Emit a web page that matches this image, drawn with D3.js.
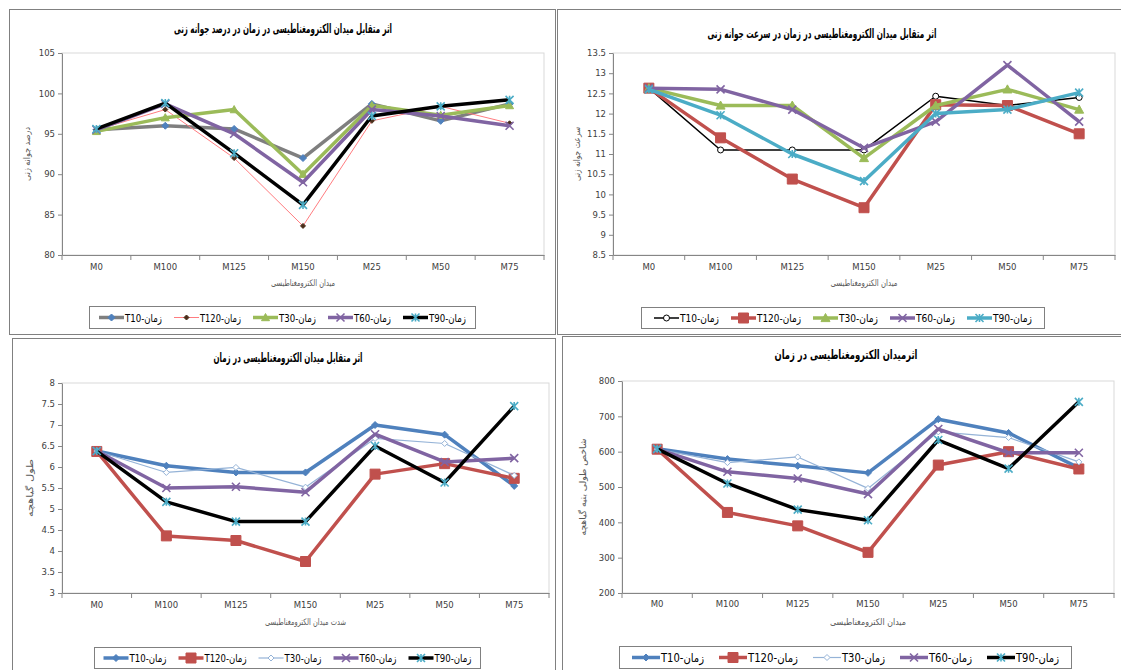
<!DOCTYPE html>
<html>
<head>
<meta charset="utf-8">
<script src="https://cdn.jsdelivr.net/npm/d3@7"></script>
<style>
  html, body { margin: 0; padding: 0; background: #fff; }
  svg { display: block; }
  text { font-family: "DejaVu Sans", "Liberation Sans", sans-serif; }
</style>
</head>
<body>
<svg id="chart" width="1121" height="670"></svg>
<script>
// ---------- DATA ----------
const categories = ["M0", "M100", "M125", "M150", "M25", "M50", "M75"];
const seriesNames = ["T10", "T120", "T30", "T60", "T90"];
const legendLabels = ["T10-زمان", "T120-زمان", "T30-زمان", "T60-زمان", "T90-زمان"];

// Panel 1: germination percentage
const germT10  = [95.5, 96.0, 95.6, 92.0, 98.7, 96.6, 98.7];
const germT120 = [95.5, 98.0, 92.0, 83.6, 96.6, 98.4, 96.3];
const germT30  = [95.3, 97.0, 98.0, 90.0, 98.5, 97.3, 98.5];
const germT60  = [95.5, 98.7, 95.0, 89.0, 98.0, 97.2, 96.0];
const germT90  = [95.6, 98.8, 92.6, 86.2, 97.2, 98.4, 99.2];
const germTicks = [80, 85, 90, 95, 100, 105];

// Panel 2: germination speed
const speedT10  = [12.63, 11.1, 11.1, 11.1, 12.43, 12.2, 12.4];
const speedT120 = [12.63, 11.4, 10.38, 9.67, 12.22, 12.2, 11.5];
const speedT30  = [12.63, 12.2, 12.2, 10.9, 12.2, 12.6, 12.1];
const speedT60  = [12.63, 12.6, 12.1, 11.15, 11.8, 13.2, 11.8];
const speedT90  = [12.6, 11.96, 11.0, 10.33, 12.0, 12.1, 12.52];
const speedTicks = [8.5, 9, 9.5, 10, 10.5, 11, 11.5, 12, 12.5, 13, 13.5];

// Panel 3: seedling length
const lenT10  = [6.38, 6.03, 5.87, 5.87, 7.0, 6.77, 5.55];
const lenT120 = [6.37, 4.36, 4.25, 3.75, 5.83, 6.08, 5.73];
const lenT30  = [6.38, 5.87, 5.99, 5.52, 6.68, 6.56, 5.8];
const lenT60  = [6.38, 5.5, 5.53, 5.4, 6.78, 6.12, 6.21];
const lenT90  = [6.38, 5.17, 4.7, 4.7, 6.5, 5.63, 7.45];
const lenTicks = [3, 3.5, 4, 4.5, 5, 5.5, 6, 6.5, 7, 7.5, 8];

// Panel 4: seedling vigour index
const vigT10  = [608, 579, 560, 540, 692, 653, 554];
const vigT120 = [607, 428, 390, 315, 562, 600, 551];
const vigT30  = [607, 569, 585, 496, 656, 640, 571];
const vigT60  = [607, 543, 524, 480, 664, 597, 597];
const vigT90  = [608, 510, 436, 406, 633, 552, 741];
const vigTicks = [200, 300, 400, 500, 600, 700, 800];

// ---------- STYLES ----------
const styleA = [ // panel 1
  {line: "#7f7f7f", lw: 3.5, marker: "diamond", mfill: "#4f81bd", mstroke: "#4f81bd", ms: 7},
  {line: "#ff7c80", lw: 1, marker: "diamond", mfill: "#4a2e1a", mstroke: "#4a2e1a", ms: 5},
  {line: "#9bbb59", lw: 3.5, marker: "triangle", mfill: "#9bbb59", mstroke: "#9bbb59", ms: 8},
  {line: "#8064a2", lw: 3.5, marker: "x", mfill: "none", mstroke: "#8064a2", ms: 8},
  {line: "#000000", lw: 3.5, marker: "star", mfill: "none", mstroke: "#4bacc6", ms: 8}
];
const styleB = [ // panel 2
  {line: "#000000", lw: 1.5, marker: "circle", mfill: "#ffffff", mstroke: "#000000", ms: 6},
  {line: "#c0504d", lw: 3.5, marker: "square", mfill: "#c0504d", mstroke: "#c0504d", ms: 10},
  {line: "#9bbb59", lw: 3.5, marker: "triangle", mfill: "#9bbb59", mstroke: "#9bbb59", ms: 9},
  {line: "#8064a2", lw: 3.5, marker: "x", mfill: "none", mstroke: "#8064a2", ms: 8},
  {line: "#4bacc6", lw: 3.5, marker: "star", mfill: "none", mstroke: "#4bacc6", ms: 8}
];
const styleC = [ // panels 3 & 4
  {line: "#4f81bd", lw: 3.5, marker: "diamond", mfill: "#4f81bd", mstroke: "#4f81bd", ms: 7},
  {line: "#c0504d", lw: 3.5, marker: "square", mfill: "#c0504d", mstroke: "#c0504d", ms: 10},
  {line: "#95b3d7", lw: 1.2, marker: "diamond", mfill: "#ffffff", mstroke: "#95b3d7", ms: 6},
  {line: "#8064a2", lw: 3.5, marker: "x", mfill: "none", mstroke: "#8064a2", ms: 8},
  {line: "#000000", lw: 3.5, marker: "star", mfill: "none", mstroke: "#4bacc6", ms: 8}
];

const panels = [
  {
    frame: [9.5, 9.5, 546, 325],
    title: "اثر متقابل میدان الکترومغناطیسی در زمان در درصد جوانه زنی", titleX: 283, titleY: 33, titleW: 218,
    plot: {left: 62, right: 544, top: 53, bottom: 255},
    domain: [80, 105], ticks: germTicks,
    yTitle: "درصد جوانه زنی", yTitleX: 30, yTitleW: 54,
    xTitle: "میدان الکترومغناطیسی", xTitleY: 286, xTitleW: 64, catY: 270,
    series: [germT10, germT120, germT30, germT60, germT90], styles: styleA,
    legend: [89.5, 306.5, 386, 22], leg: {line: 25, tw: 37, tw2: 41, gap: 12, fs: 10.5}
  },
  {
    frame: [557.5, 9.5, 570, 325],
    title: "اثر متقابل میدان الکترومغناطیسی در زمان در سرعت جوانه زنی", titleX: 822, titleY: 38, titleW: 229,
    plot: {left: 613, right: 1115, top: 53, bottom: 255},
    domain: [8.5, 13.5], ticks: speedTicks,
    yTitle: "سرعت جوانه زنی", yTitleX: 580, yTitleW: 54,
    xTitle: "میدان الکترومغناطیسی", xTitleY: 286, xTitleW: 67, catY: 270,
    series: [speedT10, speedT120, speedT30, speedT60, speedT90], styles: styleB,
    legend: [641.5, 307.5, 403, 21], leg: {line: 25, tw: 39, tw2: 44, gap: 12, fs: 11}
  },
  {
    frame: [12.5, 338.5, 543, 340],
    title: "اثر متقابل میدان الکترومغناطیسی در زمان", titleX: 288, titleY: 362, titleW: 149,
    plot: {left: 62, right: 549, top: 383, bottom: 593},
    domain: [3, 8], ticks: lenTicks,
    yTitle: "طول گیاهچه", yTitleX: 33, yTitleW: 58,
    xTitle: "شدت میدان الکترومغناطیسی", xTitleY: 625, xTitleW: 81, catY: 608,
    series: [lenT10, lenT120, lenT30, lenT60, lenT90], styles: styleC,
    legend: [94.5, 647.5, 386, 21], leg: {line: 25, tw: 37, tw2: 42, gap: 12, fs: 10.5}
  },
  {
    frame: [562.5, 336.5, 570, 340],
    title: "اثرمیدان الکترومغناطیسی در زمان", titleX: 846, titleY: 359, titleW: 143,
    plot: {left: 622, right: 1114, top: 381, bottom: 593},
    domain: [200, 800], ticks: vigTicks,
    yTitle: "شاخص طولی بنیه گیاهچه", yTitleX: 586, yTitleW: 97,
    xTitle: "میدان الکترومغناطیسی", xTitleY: 625, xTitleW: 76, catY: 607,
    series: [vigT10, vigT120, vigT30, vigT60, vigT90], styles: styleC,
    legend: [619.5, 646.5, 452, 22], leg: {line: 28, tw: 43, tw2: 50, gap: 15, fs: 12}
  }
];

const svg = d3.select("#chart");

function markerPath(type, s) {
  const h = s / 2;
  switch (type) {
    case "diamond": return `M0,${-h}L${h},0L0,${h}L${-h},0Z`;
    case "square": return `M${-h},${-h}H${h}V${h}H${-h}Z`;
    case "triangle": return `M0,${-h}L${h},${h * 0.8}L${-h},${h * 0.8}Z`;
    case "circle": return d3.symbol(d3.symbolCircle, Math.PI * h * h)();
    case "x": return `M${-h},${-h}L${h},${h}M${-h},${h}L${h},${-h}`;
    case "star": return `M${-h},${-h}L${h},${h}M${-h},${h}L${h},${-h}M0,${-h}V${h}`;
  }
}

function drawMarker(g, st, x, y) {
  const isLine = st.marker === "x" || st.marker === "star";
  g.append("path")
    .attr("transform", `translate(${x},${y})`)
    .attr("d", markerPath(st.marker, st.ms))
    .attr("fill", isLine ? "none" : st.mfill)
    .attr("stroke", st.mstroke)
    .attr("stroke-width", isLine ? 1.6 : 1);
}

function fitText(t, w) {
  t.attr("textLength", w).attr("lengthAdjust", "spacingAndGlyphs");
}

panels.forEach(p => {
  const g = svg.append("g");
  // frame
  g.append("rect").attr("x", p.frame[0]).attr("y", p.frame[1])
    .attr("width", p.frame[2]).attr("height", p.frame[3])
    .attr("fill", "#fff").attr("stroke", "#808080").attr("stroke-width", 1);

  // title
  const tt = g.append("text").attr("x", p.titleX).attr("y", p.titleY)
    .attr("text-anchor", "middle").attr("font-size", 12.5).attr("font-weight", "bold")
    .attr("fill", "#000").text(p.title);
  fitText(tt, p.titleW);

  const x = d3.scaleBand().domain(categories).range([p.plot.left, p.plot.right]);
  const y = d3.scaleLinear().domain(p.domain).range([p.plot.bottom, p.plot.top]);

  // plot area border
  g.append("rect").attr("x", p.plot.left).attr("y", p.plot.top)
    .attr("width", p.plot.right - p.plot.left).attr("height", p.plot.bottom - p.plot.top)
    .attr("fill", "none").attr("stroke", "#d9d9d9").attr("stroke-width", 1);

  // y axis
  const yAxis = g.append("g").attr("transform", `translate(${p.plot.left},0)`)
    .call(d3.axisLeft(y).tickValues(p.ticks).tickSize(4).tickSizeOuter(0).tickFormat(d3.format("~g")));
  yAxis.select(".domain").attr("stroke", "#868686");
  yAxis.selectAll(".tick line").attr("stroke", "#868686");
  yAxis.selectAll(".tick text").attr("font-family", "Liberation Sans, Arial, sans-serif")
    .attr("font-size", 8.5).attr("fill", "#404040").attr("x", -7);

  // x axis
  const xAxis = g.append("g").attr("transform", `translate(0,${p.plot.bottom})`)
    .call(d3.axisBottom(x).tickSize(0).tickSizeOuter(0));
  xAxis.select(".domain").attr("stroke", "#868686");
  xAxis.selectAll(".tick text").attr("font-family", "Liberation Sans, Arial, sans-serif")
    .attr("font-size", 8.5).attr("fill", "#404040").attr("dy", null)
    .attr("y", p.catY - p.plot.bottom);
  // boundary ticks between categories
  const bounds = categories.map(c => x(c)).concat([p.plot.right]);
  g.selectAll(null).data(bounds).enter().append("line")
    .attr("x1", d => d).attr("x2", d => d)
    .attr("y1", p.plot.bottom).attr("y2", p.plot.bottom + 5)
    .attr("stroke", "#868686");

  // axis titles
  const xt = g.append("text").attr("x", (p.plot.left + p.plot.right) / 2).attr("y", p.xTitleY)
    .attr("text-anchor", "middle").attr("font-size", 9).attr("fill", "#595959").text(p.xTitle);
  fitText(xt, p.xTitleW);
  const yc = (p.plot.top + p.plot.bottom) / 2;
  const yt = g.append("text").attr("transform", `translate(${p.yTitleX},${yc}) rotate(-90)`)
    .attr("text-anchor", "middle").attr("font-size", 9).attr("fill", "#595959").text(p.yTitle);
  fitText(yt, p.yTitleW);

  // series
  const cx = c => x(c) + x.bandwidth() / 2;
  p.series.forEach((vals, i) => {
    const st = p.styles[i];
    const line = d3.line().x((d, j) => cx(categories[j])).y(d => y(d));
    g.append("path").datum(vals).attr("d", line)
      .attr("fill", "none").attr("stroke", st.line).attr("stroke-width", st.lw)
      .attr("stroke-linejoin", "round");
    const mg = g.append("g");
    vals.forEach((v, j) => drawMarker(mg, st, cx(categories[j]), y(v)));
  });

  // legend
  const [lx, ly, lw, lh] = p.legend;
  const L = p.leg;
  g.append("rect").attr("x", lx).attr("y", ly).attr("width", lw).attr("height", lh)
    .attr("fill", "#fff").attr("stroke", "#808080");
  const items = g.append("g");
  let cur = 0;
  legendLabels.forEach((lab, i) => {
    const st = p.styles[i];
    const tw = (i === 1) ? L.tw2 : L.tw;
    const it = items.append("g").attr("transform", `translate(${cur},0)`);
    it.append("line").attr("x1", 0).attr("x2", L.line).attr("y1", 0).attr("y2", 0)
      .attr("stroke", st.line).attr("stroke-width", st.lw);
    drawMarker(it, st, L.line / 2, 0);
    const t = it.append("text").attr("x", L.line + 1).attr("y", 4).attr("font-size", L.fs)
      .attr("font-family", "Liberation Sans, DejaVu Sans, sans-serif")
      .attr("fill", "#000").text(lab);
    fitText(t, tw);
    cur += L.line + 1 + tw + L.gap;
  });
  const total = cur - L.gap;
  items.attr("transform", `translate(${lx + (lw - total) / 2},${ly + lh / 2})`);
});
</script>
</body>
</html>
